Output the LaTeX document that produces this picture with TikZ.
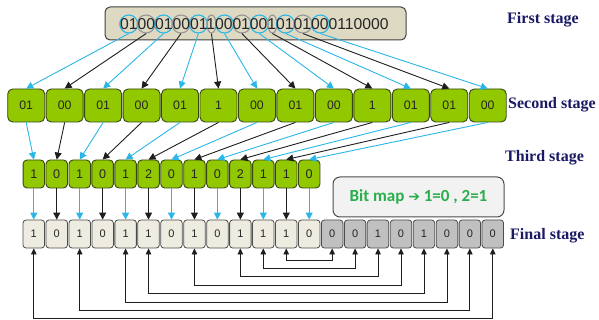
\documentclass[tikz,border=0pt]{standalone}
\usepackage{fontspec}
\setmainfont{Liberation Serif}
\newfontfamily\digf{Liberation Sans}
\newfontfamily\calf{Carlito}
\newfontfamily\dvf{DejaVu Sans}
\usetikzlibrary{arrows.meta,shapes.geometric,calc}
\definecolor{cyanA}{RGB}{41,182,232}
\definecolor{lineK}{RGB}{30,30,30}
\definecolor{greenF}{RGB}{146,200,0}
\definecolor{greenD}{RGB}{55,70,20}
\definecolor{tanF}{RGB}{221,217,195}
\definecolor{beigeF}{RGB}{238,236,225}
\definecolor{greyF}{RGB}{192,192,192}
\definecolor{navy}{RGB}{25,25,100}
\definecolor{mapG}{RGB}{40,175,75}
\definecolor{ringG}{RGB}{150,150,150}
\begin{document}
\begin{tikzpicture}[x=1pt,y=-1pt,
  topbox/.style={draw=black!75, fill=tanF, rounded corners=5pt, line width=1pt, inner sep=0},
  gbox/.style={draw=greenD, fill=greenF, rounded corners=5pt, line width=0.9pt, minimum width=37pt, minimum height=33pt, inner sep=0, font=\digf\fontsize{12.3}{14}\selectfont, text=black!85},
  tbox/.style={draw=greenD, fill=greenF, rounded corners=4pt, line width=0.9pt, minimum width=21.5pt, minimum height=28pt, inner sep=0, font=\digf\fontsize{12.6}{14}\selectfont, text=black!85},
  fbox/.style={draw=black!70, rounded corners=3pt, line width=0.8pt, minimum width=21.5pt, minimum height=28pt, inner sep=0, font=\digf\fontsize{11}{13}\selectfont, text=black!85},
  stagelbl/.style={font=\bfseries\fontsize{16}{18}\selectfont, text=navy, anchor=west, inner sep=0},
  ring/.style={ellipse, draw, line width=1.1pt, inner sep=0, minimum height=18pt},
  ca/.style={draw=cyanA, line width=0.9pt, -{Triangle[length=7pt,width=7pt]}},
  ka/.style={draw=lineK, line width=0.9pt, -{Triangle[length=7pt,width=7pt]}},
  fb/.style={draw=lineK, line width=0.8pt, {Triangle[length=6pt,width=5.5pt]}-{Triangle[length=6pt,width=5.5pt]}}
]
\useasboundingbox (0,0) rectangle (599,320);

% first stage
\node[topbox, minimum width=301pt, minimum height=33pt] (top) at (255.5,23.5) {};
\foreach \c/\w/\col [count=\i from 0] in {1/18/cyanA,3/18/ringG,5/18/cyanA,7/18/ringG,9/18/cyanA,10.5/9/ringG,12/18/cyanA,14/18/ringG,16/18/cyanA,17.5/9/ringG,19/18/cyanA,21/18/ringG,23/18/cyanA}
  \node[ring, draw=\col, minimum width=\w pt] (c\i) at (120+\c*8.71,24) {};
\node[anchor=west, inner sep=0, font=\digf\fontsize{15.7}{18}\selectfont, text=black!85] (bits) at (120,24) {0100010001100010010101000110000};

% second stage
\foreach \v [count=\i from 0] in {01,00,01,00,01,1,00,01,00,1,01,01,00}
  \node[gbox] (s\i) at (26.2+38.46*\i,105.5) {\v};

% third stage
\foreach \v [count=\i from 0] in {1,0,1,0,1,2,0,1,0,2,1,1,0}
  \node[tbox] (t\i) at (33.8+22.95*\i,174) {\v};

% final stage
\foreach \v [count=\i from 0] in {1,0,1,0,1,1,0,1,0,1,1,1,0}
  \node[fbox, fill=beigeF] (f\i) at (33.8+22.95*\i,234) {\v};
\foreach \v [count=\i from 13] in {0,0,1,0,1,0,0,0}
  \node[fbox, fill=greyF] (f\i) at (33.8+22.95*\i,234) {\v};

% connectors
\foreach \i in {0,2,...,12} {
  \draw[ca] (c\i.south) -- (s\i.north);
  \draw[ca] (s\i.south) -- (t\i.north);
  \draw[ca] (t\i.south) -- (f\i.north);
}
\foreach \i in {1,3,...,11} {
  \draw[ka] (c\i.south) -- (s\i.north);
  \draw[ka] (s\i.south) -- (t\i.north);
  \draw[ka] (t\i.south) -- (f\i.north);
}

% feedback
\foreach \a/\b/\y in {11/13/260,10/14/268.4,9/15/276.8,7/16/285.2,5/17/293.6,4/18/302,2/19/310.4,0/20/318.6}
  \draw[fb] (f\a.south) -- (f\a.south |- 0,\y) -| (f\b.south);

% bit map
\node[draw=black!70, fill=black!5, rounded corners=7pt, minimum width=171pt, minimum height=40pt, line width=1pt, font=\calf\bfseries\fontsize{17}{19}\selectfont, text=mapG] (bm) at (418.5,197) {Bit map {\dvf\fontsize{14}{16}\selectfont ➔} 1=0 , 2=1};

% labels
\node[stagelbl] (l1) at (507,20) {First stage};
\node[stagelbl] (l2) at (508,105) {Second stage};
\node[stagelbl] (l3) at (505,158) {Third stage};
\node[stagelbl] (l4) at (510,236) {Final stage};
\end{tikzpicture}
\end{document}
